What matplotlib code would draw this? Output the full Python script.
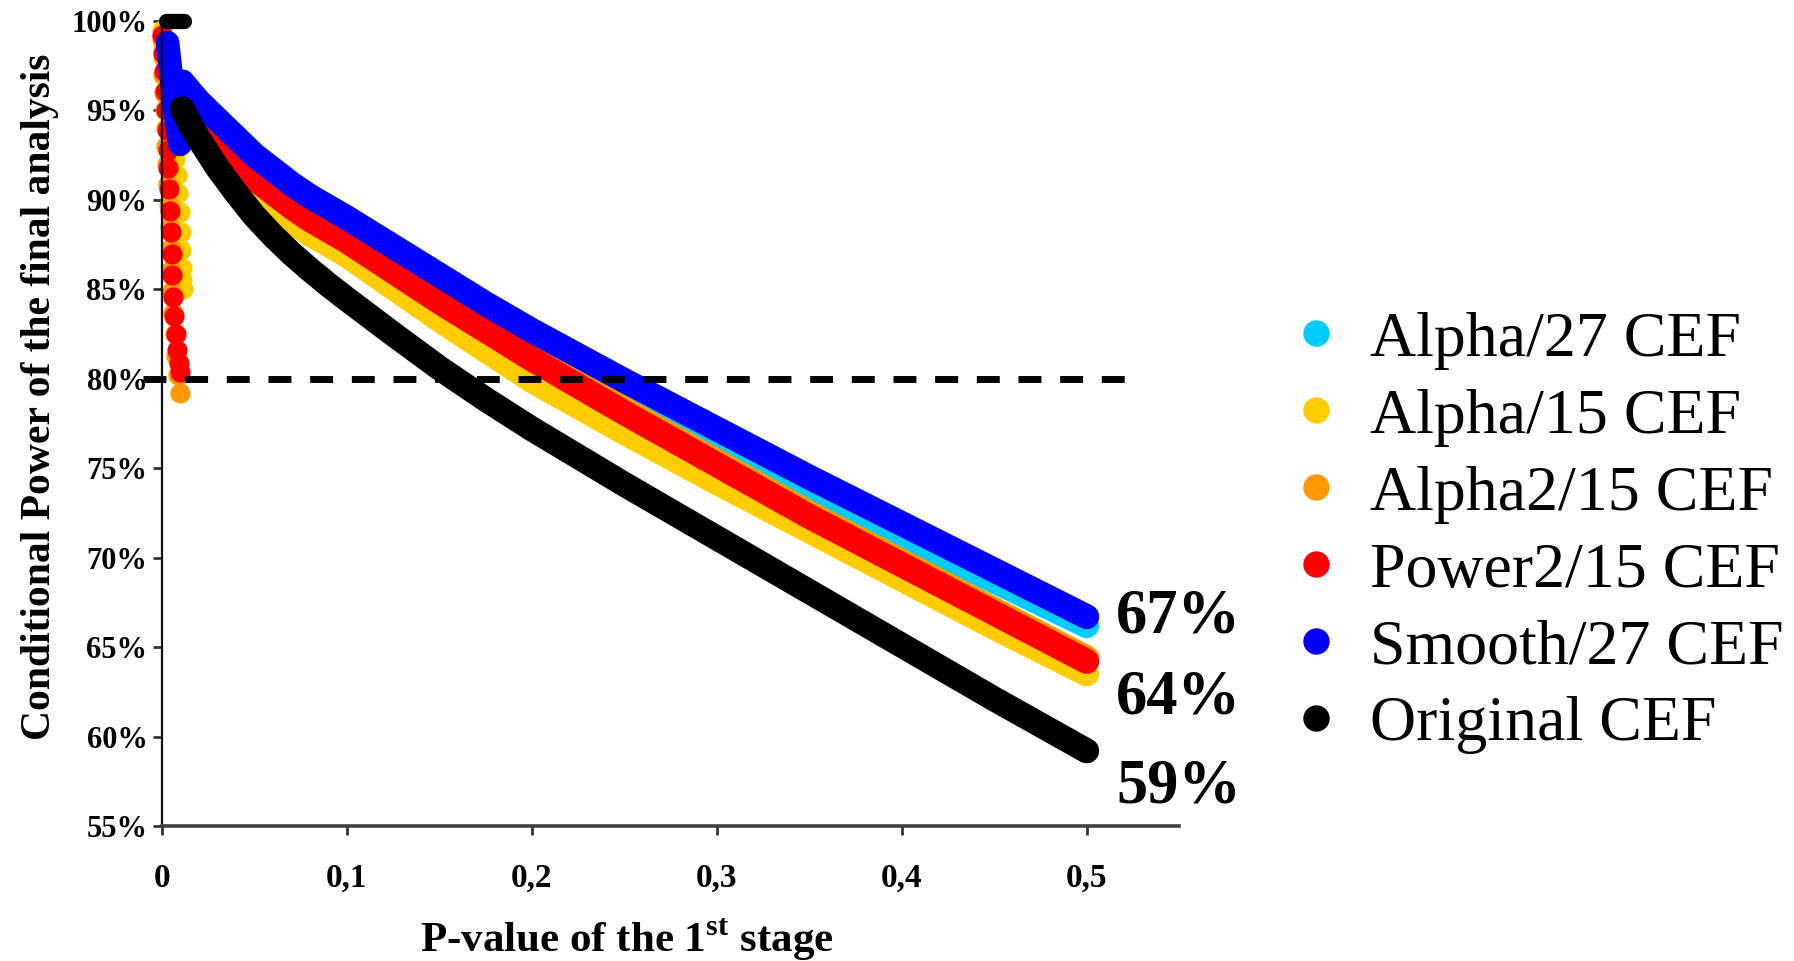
import matplotlib
matplotlib.use('Agg')
import matplotlib.pyplot as plt
from matplotlib.lines import Line2D

plt.rcParams['font.family'] = ['Liberation Serif', 'DejaVu Serif']
plt.rcParams['mathtext.fontset'] = 'custom'
plt.rcParams['mathtext.bf'] = 'Liberation Serif:bold'
plt.rcParams['mathtext.rm'] = 'Liberation Serif:bold'

names = ['Alpha/27 CEF', 'Alpha/15 CEF', 'Alpha2/15 CEF', 'Power2/15 CEF', 'Smooth/27 CEF', 'Original CEF']
colors = ['#00ccff', '#ffcc00', '#ff9900', '#ff0000', '#0000ff', '#000000']

# p-values of the 1st stage shared by the main curves
p = [0.015, 0.02, 0.025, 0.03, 0.04, 0.05, 0.06, 0.07, 0.08, 0.09, 0.1,
     0.125, 0.15, 0.175, 0.2, 0.25, 0.3, 0.35, 0.4, 0.45, 0.5]

# first point of each main curve (just after the spike)
p_start = [0.010, 0.009, 0.009, 0.009, 0.011, 0.011]
cp_start = [96.1, 95.5, 96.1, 95.9, 96.6, 95.1]

# conditional power (%) read on the curves
cp_cyan = [95.5, 94.9, 94.3, 93.8, 92.7, 91.7, 90.9, 90.1, 89.5, 88.9, 88.3,
           86.7, 85.1, 83.5, 82.0, 79.2, 76.4, 73.7, 71.2, 68.7, 66.2]
cp_yel = [94.5, 93.8, 93.1, 92.5, 91.4, 90.4, 89.6, 88.8, 88.1, 87.5, 86.9,
          85.1, 83.3, 81.6, 79.9, 77.0, 74.2, 71.5, 68.8, 66.1, 63.5]
cp_ora = [95.2, 94.5, 93.9, 93.3, 92.3, 91.4, 90.6, 89.8, 89.1, 88.5, 87.9,
          86.2, 84.5, 82.9, 81.3, 78.3, 75.4, 72.5, 69.8, 67.1, 64.4]
cp_red = [95.0, 94.3, 93.7, 93.1, 92.1, 91.2, 90.4, 89.6, 88.9, 88.3, 87.7,
          86.0, 84.3, 82.7, 81.1, 78.1, 75.2, 72.3, 69.6, 66.9, 64.2]
cp_blue = [96.1, 95.5, 95.0, 94.5, 93.5, 92.5, 91.7, 90.9, 90.2, 89.6, 89.0,
           87.4, 85.8, 84.2, 82.7, 79.9, 77.2, 74.5, 71.9, 69.3, 66.7]
cp_blk = [94.3, 93.4, 92.6, 91.8, 90.4, 89.1, 88.0, 87.0, 86.1, 85.25, 84.45,
          82.5, 80.6, 78.85, 77.2, 74.1, 71.1, 68.1, 65.1, 62.1, 59.2]

# spikes close to p = 0
sx_yel = [0, .0008, .0016, .0024, .0032, .0040, .0048, .0056, .0064, .0072, .0080, .0088, .0095, .0101, .0105, .0108, .0110, .0112]
sy_yel = [99.5, 98.7, 97.9, 97.1, 96.3, 95.5, 94.7, 93.9, 93.1, 92.3, 91.4, 90.4, 89.3, 88.2, 87.2, 86.2, 85.5, 85.0]
sx_ora = [0, .0004, .0008, .0012, .0016, .002, .0024, .0028, .0033, .0038, .0042, .0046, .0050, .0055, .0061, .0068, .0076, .0085, .0095]
sy_ora = [99.0, 98.0, 97.0, 96.0, 95.0, 94.0, 93.0, 92.0, 90.9, 89.7, 88.5, 87.3, 86.1, 84.9, 83.7, 82.5, 81.3, 80.2, 79.2]
sx_red = [0, .0005, .001, .0015, .002, .0025, .003, .0035, .004, .0044, .0048, .0052, .0056, .0061, .0067, .0074, .0082, .0090, .0097]
sy_red = [99.2, 98.2, 97.2, 96.1, 95.0, 93.9, 92.8, 91.8, 90.6, 89.4, 88.2, 87.0, 85.8, 84.6, 83.5, 82.5, 81.6, 80.9, 80.4]
sx_blue = [0.003, 0.004, 0.005, 0.006, 0.007, 0.008, 0.009, 0.0098]
sy_blue = [98.8, 97.9, 96.9, 95.8, 95.0, 94.3, 93.6, 93.1]
sx_blk = [0.002, 0.004, 0.006, 0.008, 0.010, 0.012]
sy_blk = [100, 100, 100, 100, 100, 100]

end_labels = ['67%', '64%', '59%']
end_label_y = [65.8, 61.3, 56.3]

yticks = [55, 60, 65, 70, 75, 80, 85, 90, 95, 100]
ytick_labels = [f'{v}%' for v in yticks]
xticks = [0, 0.1, 0.2, 0.3, 0.4, 0.5]
xtick_labels = ['0', '0,1', '0,2', '0,3', '0,4', '0,5']

fig = plt.figure(figsize=(17.94, 9.61), dpi=100)
ax = fig.add_axes([0.0903, 0.1405, 0.567, 0.8376])

LW = 18
curves = [cp_cyan, cp_yel, cp_ora, cp_red, cp_blue, cp_blk]
spikes = [None, (sx_yel, sy_yel), (sx_ora, sy_ora), (sx_red, sy_red), (sx_blue, sy_blue), (sx_blk, sy_blk)]

for cp, x0, y0, sp, c in zip(curves, p_start, cp_start, spikes, colors):
    if sp is not None:
        if c in ('#0000ff', '#000000'):
            ax.plot(sp[0], sp[1], color=c, lw=17 if c == '#0000ff' else 11,
                    solid_capstyle='round', clip_on=False)
        else:
            ax.plot(sp[0], sp[1], 'o', color=c, ms=14.5, mec='none', clip_on=False)
    ax.plot([x0] + p, [y0] + cp, color=c, lw=LW, solid_capstyle='round',
            solid_joinstyle='round', clip_on=False)

# 80% reference line
ax.plot([-0.0103, 0.523], [80, 80], color='black', lw=5, dashes=(3.3, 2.7), clip_on=False, zorder=5)

for lab, yy in zip(end_labels, end_label_y):
    ax.text(0.516, yy, lab, fontsize=45, fontweight='bold', ha='left', va='baseline')

ax.set_xlim(0, 0.55)
ax.set_ylim(55, 100)
ax.set_yticks(yticks)
ax.set_yticklabels(ytick_labels, fontsize=22, fontweight='bold')
ax.set_xticks(xticks)
ax.set_xticklabels(xtick_labels, fontsize=24, fontweight='bold')
ax.tick_params(axis='y', length=6.5, width=2, color='#333333', pad=4)
ax.tick_params(axis='x', length=6.5, width=2, color='#333333', pad=20)

for s in ['top', 'right']:
    ax.spines[s].set_visible(False)
ax.spines['left'].set_linewidth(1.6)
ax.spines['left'].set_color('#111111')
ax.spines['bottom'].set_linewidth(2.6)
ax.spines['bottom'].set_color('#404040')

ax.set_xlabel(r'P-value of the 1$^{\mathbf{st}}$ stage', fontsize=31, fontweight='bold', va='center')
ax.xaxis.set_label_coords(0.457, -0.1416)
ax.set_ylabel('Conditional Power of the final analysis', fontsize=30, fontweight='bold', va='center')
ax.yaxis.set_label_coords(-0.12, 0.533)

handles = [Line2D([], [], marker='o', ls='none', color=c, ms=19, mec='none') for c in colors]
fig.legend(handles, names, loc='upper left', bbox_to_anchor=(1290.5 / 1794, 1 - 311 / 961),
           fontsize=46, frameon=False, borderpad=0, borderaxespad=0,
           handlelength=0.8, handletextpad=0.45, labelspacing=0.285)

fig.savefig('out.png', dpi=100)
